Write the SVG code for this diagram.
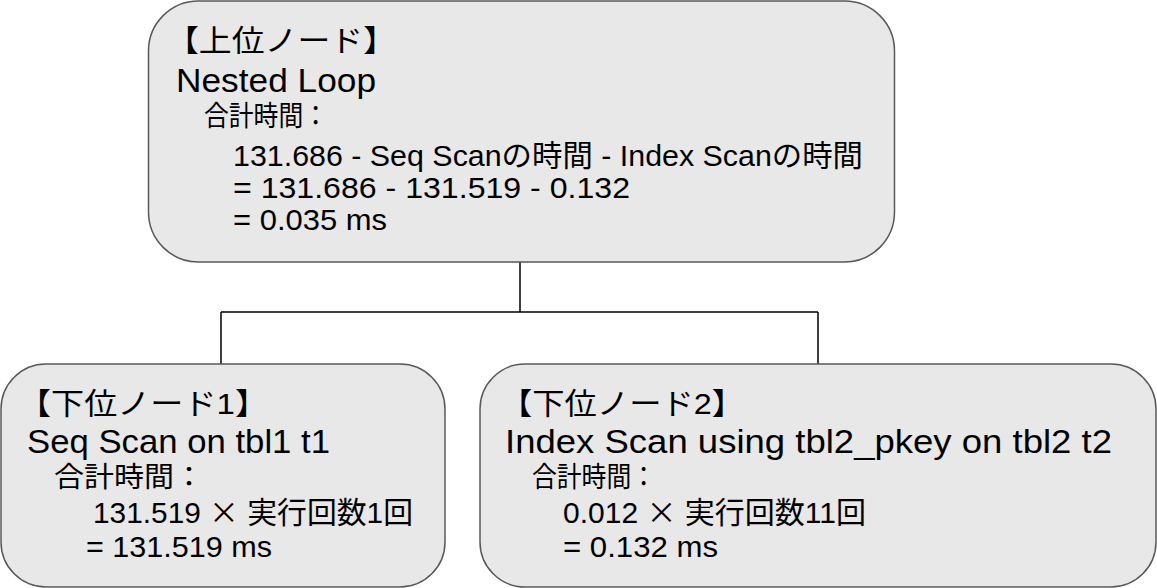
<svg xmlns="http://www.w3.org/2000/svg" width="1157" height="588" viewBox="0 0 1157 588">
<style>
.box{fill:#e8e8e8;stroke:#595959;stroke-width:1.5}
.t{font-family:"Liberation Sans","Noto Sans CJK JP",sans-serif;fill:#000}
.j{font-family:"Noto Sans CJK JP",sans-serif}
.h{font-size:30px}
.n{font-size:33px}
.s{font-size:28px}
.f{font-size:30px}
.conn{fill:none;stroke:#000;stroke-width:1.5}
</style>
<rect width="1157" height="588" fill="#fff"/>
<g id="connectors">
<path class="conn" d="M520,262 V312 M221,312 H818 M221,312 V364 M818,312 V364"/>
</g>
<g id="node-top">
<rect class="box" x="148.5" y="1" width="746" height="261" rx="50"/>
<text class="t h" x="166" y="51" textLength="230" lengthAdjust="spacingAndGlyphs">【上位ノード】</text>
<text class="t n" x="176" y="92" textLength="200" lengthAdjust="spacingAndGlyphs">Nested Loop</text>
<text class="t s" x="204" y="126" textLength="124" lengthAdjust="spacingAndGlyphs">合計時間：</text>
<text class="t f" x="233" y="166" textLength="630" lengthAdjust="spacingAndGlyphs">131.686 - Seq Scanの時間 - Index Scanの時間</text>
<text class="t f" x="233" y="198" textLength="397" lengthAdjust="spacingAndGlyphs">= 131.686 - 131.519 - 0.132</text>
<text class="t f" x="233" y="230" textLength="154" lengthAdjust="spacingAndGlyphs">= 0.035 ms</text>
</g>
<g id="node-left">
<rect class="box" x="1" y="364" width="444" height="223" rx="45"/>
<text class="t h" x="18" y="414" textLength="250" lengthAdjust="spacingAndGlyphs">【下位ノード1】</text>
<text class="t n" x="27" y="453" textLength="303" lengthAdjust="spacingAndGlyphs">Seq Scan on tbl1 t1</text>
<text class="t s" x="54" y="487" textLength="150" lengthAdjust="spacingAndGlyphs">合計時間：</text>
<text class="t f" x="93" y="523" textLength="320" lengthAdjust="spacingAndGlyphs">131.519 <tspan class="j">×</tspan> 実行回数1回</text>
<text class="t f" x="86" y="557" textLength="186" lengthAdjust="spacingAndGlyphs">= 131.519 ms</text>
</g>
<g id="node-right">
<rect class="box" x="480" y="364" width="676" height="223" rx="45"/>
<text class="t h" x="500" y="414" textLength="244" lengthAdjust="spacingAndGlyphs">【下位ノード2】</text>
<text class="t n" x="505" y="453" textLength="607" lengthAdjust="spacingAndGlyphs">Index Scan using tbl2_pkey on tbl2 t2</text>
<text class="t s" x="532" y="487" textLength="124" lengthAdjust="spacingAndGlyphs">合計時間：</text>
<text class="t f" x="563" y="523" textLength="303" lengthAdjust="spacingAndGlyphs">0.012 <tspan class="j">×</tspan> 実行回数11回</text>
<text class="t f" x="563" y="557" textLength="155" lengthAdjust="spacingAndGlyphs">= 0.132 ms</text>
</g>
</svg>
